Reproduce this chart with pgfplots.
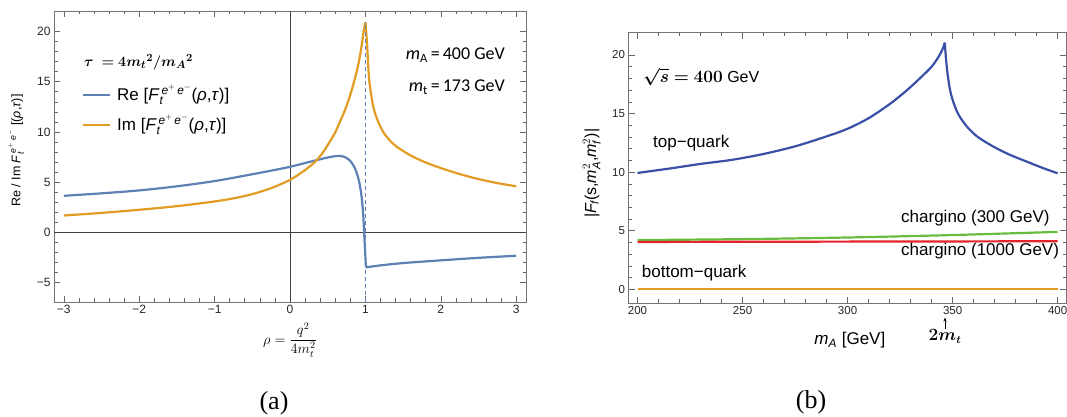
\documentclass[border=0pt]{standalone}
\usepackage{amsmath}
\usepackage{bm}
\usepackage{pgfplots}
\pgfplotsset{compat=1.18}
\usetikzlibrary{arrows.meta}
\usepackage{fontspec}
\setmainfont{Liberation Sans}
\newfontfamily\carlitofont{Carlito}
\newfontfamily\seriffont{Liberation Serif}
\definecolor{reblue}{HTML}{5E81B5}
\definecolor{imorange}{HTML}{E19C24}
\definecolor{topblue}{HTML}{3A4FA6}
\definecolor{chgreen}{HTML}{68BD3E}
\definecolor{chred}{HTML}{E5242B}
\definecolor{botorange}{HTML}{E39B22}
\pgfplotsset{mstyle/.style={scale only axis, axis line style={black!55, line width=0.8pt},
  tick style={black!60, line width=0.6pt}, tick align=inside,
  major tick length=6pt, minor tick length=3.5pt,
  tick label style={text=black!85}}}
\newcommand{\taulabel}{$\bm{\tau}\mkern5mu\bm{=}\bm{4m_t{}^2/m_A{}^2}$}
\begin{document}
\begin{tikzpicture}
\path[use as bounding box] (0pt,0pt) rectangle (1067pt,417pt);
% ---------------- panel (a)
\begin{axis}[mstyle, at={(54pt,115pt)}, anchor=south west, width=472pt, height=291pt,
  xmin=-3.13, xmax=3.13, ymin=-6.95, ymax=22.05,
  xtick={-3,-2,-1,0,1,2,3}, xticklabels={−3,−2,−1,0,1,2,3},
  ytick={-5,0,5,10,15,20}, yticklabels={−5,0,5,10,15,20},
  minor x tick num=4, minor y tick num=4,
  tick label style={font=\fontsize{12}{14}\selectfont},
  xlabel={\fontsize{14}{16}\selectfont$\rho=\dfrac{q^2}{4m_t^2}$},
  xlabel style={at={(axis description cs:0.5,-0.1306)}, anchor=center},
  ylabel={\fontsize{12.5}{15}\selectfont Re / Im \textit{F}$_{\textit{t}}^{\,\textit{e}^{+}\,\textit{e}^{-}}$ [(\textit{ρ},\textit{τ})]},
  ylabel style={at={(axis description cs:-0.0805,0.52)}, anchor=center}]
\addplot[black!75, line width=0.7pt] coordinates {(0,-6.95) (0,22.05)};
\addplot[black!75, line width=0.7pt] coordinates {(-3.13,0) (3.13,0)};
% Re
\addplot[reblue, line width=2.2pt, smooth] coordinates {
(-3,3.63) (-2.5,3.88) (-2,4.17) (-1.5,4.58) (-1,5.1) (-0.5,5.78) (-0.25,6.14) (0,6.52) (0.2,6.9) (0.35,7.18) (0.5,7.45) (0.6,7.58) (0.67,7.6) (0.74,7.45) (0.8,7.1) (0.85,6.55) (0.885,5.9) (0.92,4.95) (0.95,3.5) (0.97,1.9) (0.982,0.1)};
\addplot[reblue, line width=2.2pt] coordinates {(0.982,0.1) (1.007,-3.5)};
\addplot[reblue, line width=2.2pt, smooth] coordinates {
(1.007,-3.5) (1.2,-3.3) (1.5,-3.07) (2,-2.8) (2.5,-2.55) (3,-2.34)};
% Im
\addplot[imorange, line width=2.2pt, smooth] coordinates {
(-3,1.67) (-2.5,1.93) (-2,2.24) (-1.5,2.6) (-1,3.07) (-0.75,3.38) (-0.5,3.8) (-0.25,4.4) (0,5.22) (0.2,6.2) (0.35,7.15) (0.45,8.1) (0.533,9.1) (0.6,9.95) (0.667,11.1) (0.72,12.0) (0.778,13.2) (0.82,14.2) (0.867,15.5) (0.9,16.5) (0.933,17.8) (0.96,19.1) (0.978,20.1) (1.0,20.9)};
\addplot[imorange, line width=2.2pt, smooth] coordinates {
(1.0,20.9) (1.01,20.0) (1.022,18.8) (1.035,16.9) (1.05,15.2) (1.075,13.8) (1.111,12.3) (1.17,11.0) (1.244,9.9) (1.33,9.1) (1.42,8.5) (1.6,7.65) (1.8,6.95) (2.0,6.4) (2.25,5.8) (2.5,5.3) (2.75,4.9) (3,4.58)};
\addplot[reblue, line width=1.2pt, dash pattern=on 4pt off 3pt] coordinates {(1,-6.95) (1,21)};
\end{axis}
% legend and annotations (a)
\draw[reblue, line width=2.2pt] (82.6pt,322pt) -- (110pt,322pt);
\draw[imorange, line width=2.2pt] (82.6pt,292pt) -- (110pt,292pt);
\node[anchor=west, font=\fontsize{17}{20}\selectfont, inner sep=0pt] at (117pt,322pt) {Re [\textit{F}$_{\textit{t}}^{\,\textit{e}^{+}\,\textit{e}^{-}}$(\textit{ρ},\textit{τ})]};
\node[anchor=west, font=\fontsize{17}{20}\selectfont, inner sep=0pt] at (117pt,292pt) {Im [\textit{F}$_{\textit{t}}^{\,\textit{e}^{+}\,\textit{e}^{-}}$(\textit{ρ},\textit{τ})]};
\node[anchor=west, font=\fontsize{15}{18}\selectfont, inner sep=0pt] at (84pt,355pt) {\taulabel};
\node[anchor=east, font=\carlitofont\fontsize{18}{21}\selectfont, inner sep=0pt] at (505pt,362pt) {\textit{m}\textsubscript{A}\,=\,400 GeV};
\node[anchor=east, font=\carlitofont\fontsize{18}{21}\selectfont, inner sep=0pt] at (505pt,330pt) {\textit{m}\textsubscript{t}\,=\,173 GeV};
\node[font=\seriffont\fontsize{26}{30}\selectfont] at (274pt,14pt) {(a)};
% ---------------- panel (b)
\begin{axis}[mstyle, at={(628.5pt,114pt)}, anchor=south west, width=437.5pt, height=270.3pt,
  xmin=195.7, xmax=404, ymin=-1.17, ymax=21.9,
  xtick={200,250,300,350,400}, xticklabels={200,250,300,350,400},
  ytick={0,5,10,15,20}, yticklabels={0,5,10,15,20},
  minor x tick num=4, minor y tick num=4,
  tick label style={font=\fontsize{11.5}{14}\selectfont},
  xlabel={\fontsize{17}{20}\selectfont\textit{m}\textsubscript{\textit{A}} [GeV]},
  xlabel style={at={(axis description cs:0.506,-0.137)}, anchor=center},
  ylabel={\fontsize{16}{19}\selectfont |\textit{F}$_{\!\textit{f}}$(s,\textit{m}$_{\textit{A}}^{2}$,\textit{m}$_{\textit{f}}^{2}$)|},
  ylabel style={at={(axis description cs:-0.084,0.481)}, anchor=center}]
\addplot[botorange, line width=2.2pt] coordinates {(200,0) (400,0)};
\addplot[chgreen, line width=2.2pt, smooth] coordinates {(200,4.2) (250,4.28) (300,4.42) (350,4.63) (400,4.9)};
\addplot[chred, line width=2.2pt] coordinates {(200,4.04) (400,4.1)};
\addplot[topblue, line width=2.2pt, smooth] coordinates {
(200,9.93) (215,10.3) (230,10.7) (245,11.05) (260,11.55) (275,12.2) (290,13.05) (300,13.7) (310,14.6) (320,15.8) (328,16.95) (335,18.1) (340,19.0) (343,19.75) (345,20.4) (346.3,21.05)};
\addplot[topblue, line width=2.2pt, smooth] coordinates {
(346.3,21.05) (346.8,19.8) (347.6,18.4) (348.8,17.0) (350.5,15.9) (353,14.85) (357,13.85) (362,13.0) (369.5,12.17) (377,11.5) (385.4,10.89) (393,10.35) (400,9.9)};
\end{axis}
\node[anchor=west, font=\fontsize{16}{19}\selectfont, inner sep=0pt] at (643pt,340.3pt) {$\bm{\sqrt{s}=400}\ \mathrm{GeV}$};
\node[anchor=west, font=\fontsize{17}{20}\selectfont, inner sep=0pt] at (653pt,274pt) {top−quark};
\node[anchor=west, font=\fontsize{17}{20}\selectfont, inner sep=0pt] at (641.7pt,143.7pt) {bottom−quark};
\node[anchor=west, font=\fontsize{17}{20}\selectfont, inner sep=0pt] at (901pt,198.7pt) {chargino (300 GeV)};
\node[anchor=west, font=\fontsize{17}{20}\selectfont, inner sep=0pt] at (901pt,166.3pt) {chargino (1000 GeV)};
\draw[-{Stealth[length=4pt,width=3pt]}, line width=0.6pt] (945pt,88pt) -- (945pt,99.5pt);
\node[font=\fontsize{16}{19}\selectfont] at (945pt,80.3pt) {$\bm{2m_t}$};
\node[font=\seriffont\fontsize{26}{30}\selectfont] at (811pt,15pt) {(b)};
\end{tikzpicture}
\end{document}
